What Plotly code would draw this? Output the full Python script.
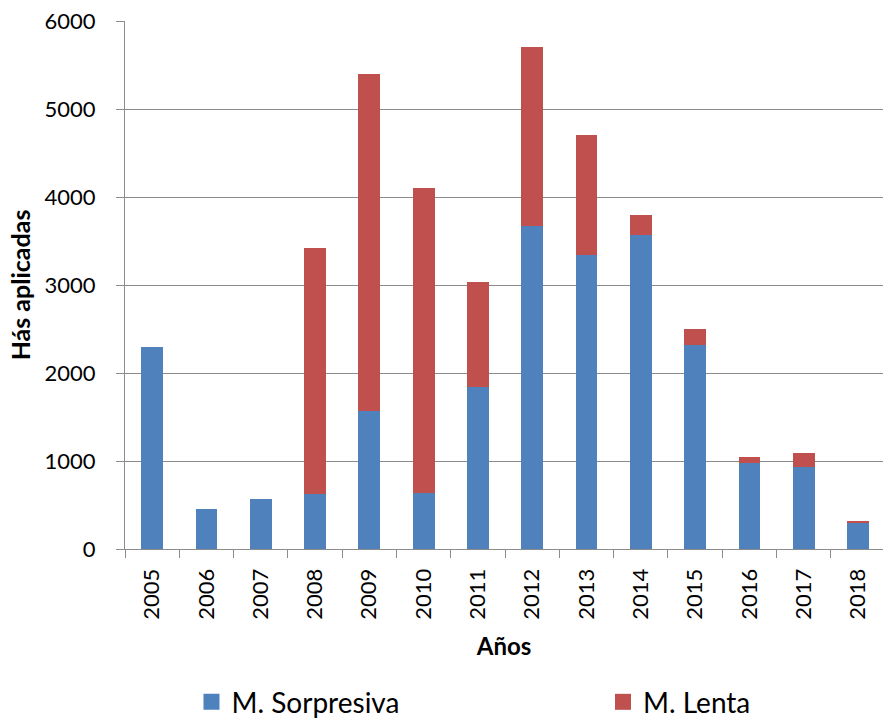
import plotly.graph_objects as go

# Hectares applied per year, split by application type
years = ["2005", "2006", "2007", "2008", "2009", "2010", "2011",
         "2012", "2013", "2014", "2015", "2016", "2017", "2018"]
sorpresiva = [2300, 450, 570, 620, 1570, 635, 1840,
              3670, 3340, 3570, 2320, 975, 930, 300]
lenta = [0, 0, 0, 2800, 3830, 3465, 1190,
         2030, 1360, 230, 180, 75, 160, 10]
y_ticks = [0, 1000, 2000, 3000, 4000, 5000, 6000]

BLUE = "#4F81BD"
RED = "#C0504D"
GRID = "#8C8C8C"
FONT = "Lato"

fig = go.Figure()
fig.add_trace(go.Bar(
    x=years, y=sorpresiva, name="M. Sorpresiva", width=0.4,
    marker=dict(color=BLUE, line=dict(width=0)),
    showlegend=False,
))
fig.add_trace(go.Bar(
    x=years, y=lenta, name="M. Lenta", width=0.4,
    marker=dict(color=RED, line=dict(width=0)),
    showlegend=False,
))
# Legend entries with larger square swatches, one legend per series
for name, color, leg in [("M. Sorpresiva", BLUE, "legend"), ("M. Lenta", RED, "legend2")]:
    fig.add_trace(go.Scatter(
        x=[None], y=[None], mode="markers", name=name, legend=leg,
        marker=dict(symbol="square", size=16, color=color),
    ))

legend_style = dict(
    orientation="h", xanchor="left", y=-0.29, yanchor="middle",
    font=dict(family=FONT, size=28), itemclick=False, bgcolor="rgba(0,0,0,0)",
)

fig.update_layout(
    barmode="stack",
    width=883, height=719,
    margin=dict(l=125, r=0, t=21, b=169.5, pad=0, autoexpand=False),
    paper_bgcolor="white", plot_bgcolor="white",
    font=dict(family=FONT, size=22, color="black"),
    showlegend=True,
    legend=dict(x=0.0877, **legend_style),
    legend2=dict(x=0.6306, **legend_style),
)
fig.update_xaxes(
    type="category", range=[-0.5, 13.46], automargin=False,
    tickson="boundaries", ticks="outside", ticklen=8, tickcolor=GRID,
    tickangle=-90, ticklabelstandoff=10,
    showline=True, linecolor=GRID, linewidth=1, showgrid=False,
    title=dict(text="<b>Años</b>", font=dict(family=FONT, size=24), standoff=19),
)
fig.update_yaxes(
    range=[0, 6000], tickvals=y_ticks, automargin=False,
    ticks="outside", ticklen=8, tickcolor=GRID, ticklabelstandoff=16,
    showgrid=True, gridcolor=GRID, gridwidth=1,
    showline=True, linecolor=GRID, linewidth=1, zeroline=False,
    title=dict(text="<b>Hás aplicadas</b>", font=dict(family=FONT, size=25), standoff=6),
)

fig.write_html("out.html")
